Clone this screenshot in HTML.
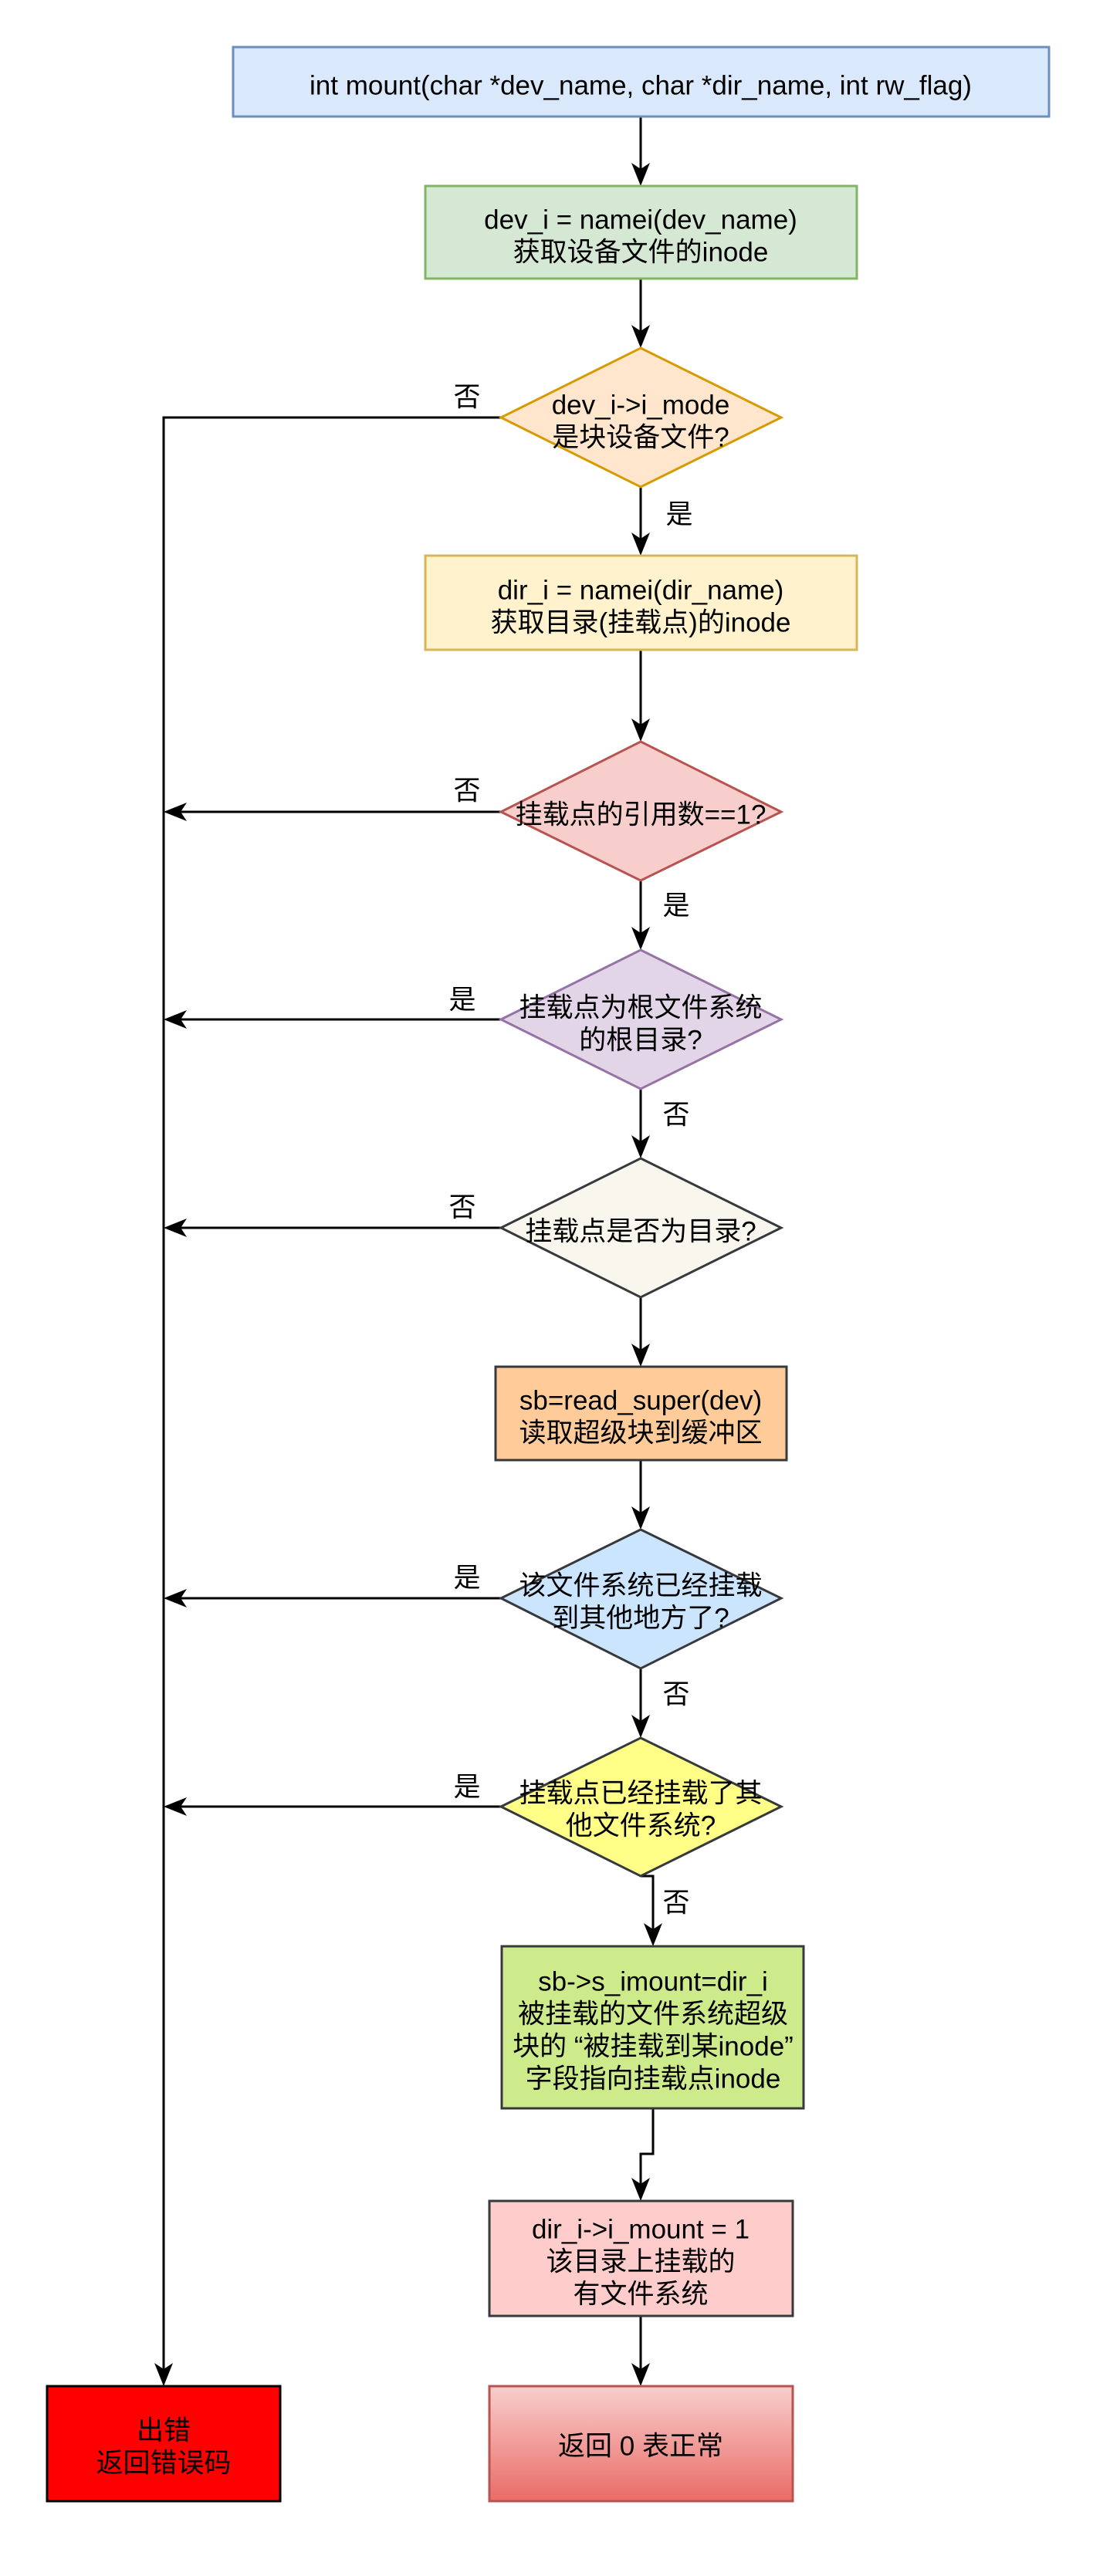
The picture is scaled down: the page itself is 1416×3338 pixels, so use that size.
<!DOCTYPE html>
<html><head><meta charset="utf-8"><style>
html,body{margin:0;padding:0;background:#fff;}
svg text{font-family:"Liberation Sans","Noto Sans CJK SC",sans-serif;font-size:35px;fill:#000;}
</style></head><body>
<svg width="1416" height="3333" viewBox="0 0 1416 3333" xmlns="http://www.w3.org/2000/svg">
<defs>
<linearGradient id="g" x1="0" y1="0" x2="0" y2="1"><stop offset="0" stop-color="#f8cecc"/><stop offset="1" stop-color="#ea6b66"/></linearGradient>
</defs>
<g stroke="#000" stroke-width="3" fill="none">
<line x1="830" y1="151" x2="830" y2="236"/>
<line x1="830" y1="361" x2="830" y2="446"/>
<line x1="830" y1="631" x2="830" y2="715"/>
<line x1="830" y1="842" x2="830" y2="956"/>
<line x1="830" y1="1141" x2="830" y2="1226"/>
<line x1="830" y1="1411" x2="830" y2="1496"/>
<line x1="830" y1="1681" x2="830" y2="1766"/>
<line x1="830" y1="1892" x2="830" y2="1977"/>
<line x1="830" y1="2162" x2="830" y2="2247"/>
<polyline points="830,2431 846,2431 846,2517"/>
<polyline points="846,2732 846,2791 830,2791 830,2847"/>
<line x1="830" y1="3001" x2="830" y2="3087"/>
<polyline points="649,541 212,541 212,3087"/>
<line x1="649" y1="1052" x2="217" y2="1052"/>
<line x1="649" y1="1321" x2="217" y2="1321"/>
<line x1="649" y1="1591" x2="217" y2="1591"/>
<line x1="649" y1="2071" x2="217" y2="2071"/>
<line x1="649" y1="2341" x2="217" y2="2341"/>
</g>
<g fill="#000">
<polygon points="830,241 818,211 830,219 842,211"/>
<polygon points="830,451 818,421 830,429 842,421"/>
<polygon points="830,720 818,690 830,698 842,690"/>
<polygon points="830,961 818,931 830,939 842,931"/>
<polygon points="830,1231 818,1201 830,1209 842,1201"/>
<polygon points="830,1501 818,1471 830,1479 842,1471"/>
<polygon points="830,1771 818,1741 830,1749 842,1741"/>
<polygon points="830,1982 818,1952 830,1960 842,1952"/>
<polygon points="830,2252 818,2222 830,2230 842,2222"/>
<polygon points="846,2522 834,2492 846,2500 858,2492"/>
<polygon points="830,2852 818,2822 830,2830 842,2822"/>
<polygon points="830,3092 818,3062 830,3070 842,3062"/>
<polygon points="212,3092 200,3062 212,3070 224,3062"/>
<polygon points="212,1052 242,1040 234,1052 242,1064"/>
<polygon points="212,1321 242,1309 234,1321 242,1333"/>
<polygon points="212,1591 242,1579 234,1591 242,1603"/>
<polygon points="212,2071 242,2059 234,2071 242,2083"/>
<polygon points="212,2341 242,2329 234,2341 242,2353"/>
</g>
<g stroke-width="3">
<rect x="302" y="61" width="1057" height="90" fill="#dae8fc" stroke="#6c8ebf"/>
<rect x="551" y="241" width="559" height="120" fill="#d5e8d4" stroke="#82b366"/>
<polygon points="830,451 1012,541 830,631 649,541" fill="#ffe6cc" stroke="#d79b00"/>
<rect x="551" y="720" width="559" height="122" fill="#fff2cc" stroke="#d6b656"/>
<polygon points="830,961 1012,1052 830,1141 649,1052" fill="#f8cecc" stroke="#b85450"/>
<polygon points="830,1231 1012,1321 830,1411 649,1321" fill="#e1d5e7" stroke="#9673a6"/>
<polygon points="830,1501 1012,1591 830,1681 649,1591" fill="#f9f7ed" stroke="#36393d"/>
<rect x="642" y="1771" width="377" height="121" fill="#ffcc99" stroke="#36393d"/>
<polygon points="830,1982 1012,2071 830,2162 649,2071" fill="#cce5ff" stroke="#36393d"/>
<polygon points="830,2252 1012,2341 830,2431 649,2341" fill="#ffff88" stroke="#36393d"/>
<rect x="650" y="2522" width="391" height="210" fill="#cdeb8b" stroke="#36393d"/>
<rect x="634" y="2852" width="393" height="149" fill="#ffcccc" stroke="#36393d"/>
<rect x="634" y="3092" width="393" height="149" fill="url(#g)" stroke="#b85450"/>
<rect x="61" y="3092" width="302" height="149" fill="#ff0000" stroke="#000"/>
</g>
<g text-anchor="middle" dominant-baseline="central">
<text x="830" y="111" font-size="33">int mount(char *dev_name, char *dir_name, int rw_flag)</text>
<text x="830" y="285">dev_i = namei(dev_name)</text>
<text x="830" y="327">获取设备文件的inode</text>
<text x="830" y="525">dev_i-&gt;i_mode</text>
<text x="830" y="567">是块设备文件?</text>
<text x="830" y="765">dir_i = namei(dir_name)</text>
<text x="830" y="807">获取目录(挂载点)的inode</text>
<text x="830" y="1056">挂载点的引用数==1?</text>
<text x="830" y="1306">挂载点为根文件系统</text>
<text x="830" y="1348">的根目录?</text>
<text x="830" y="1596">挂载点是否为目录?</text>
<text x="830" y="1815">sb=read_super(dev)</text>
<text x="830" y="1857">读取超级块到缓冲区</text>
<text x="830" y="2055">该文件系统已经挂载</text>
<text x="830" y="2097">到其他地方了?</text>
<text x="830" y="2324">挂载点已经挂载了其</text>
<text x="830" y="2366">他文件系统?</text>
<text x="846" y="2568">sb-&gt;s_imount=dir_i</text>
<text x="846" y="2610">被挂载的文件系统超级</text>
<text x="846" y="2652">块的 “被挂载到某inode”</text>
<text x="846" y="2694">字段指向挂载点inode</text>
<text x="830" y="2889">dir_i-&gt;i_mount = 1</text>
<text x="830" y="2931">该目录上挂载的</text>
<text x="830" y="2973">有文件系统</text>
<text x="830" y="3170">返回 0 表正常</text>
<text x="212" y="3150">出错</text>
<text x="212" y="3192">返回错误码</text>
<text x="605" y="515">否</text>
<text x="880" y="667">是</text>
<text x="605" y="1025">否</text>
<text x="876" y="1174">是</text>
<text x="599" y="1296">是</text>
<text x="876" y="1445">否</text>
<text x="599" y="1565">否</text>
<text x="605" y="2045">是</text>
<text x="876" y="2196">否</text>
<text x="605" y="2316">是</text>
<text x="876" y="2466">否</text>
</g>
</svg>
</body></html>
